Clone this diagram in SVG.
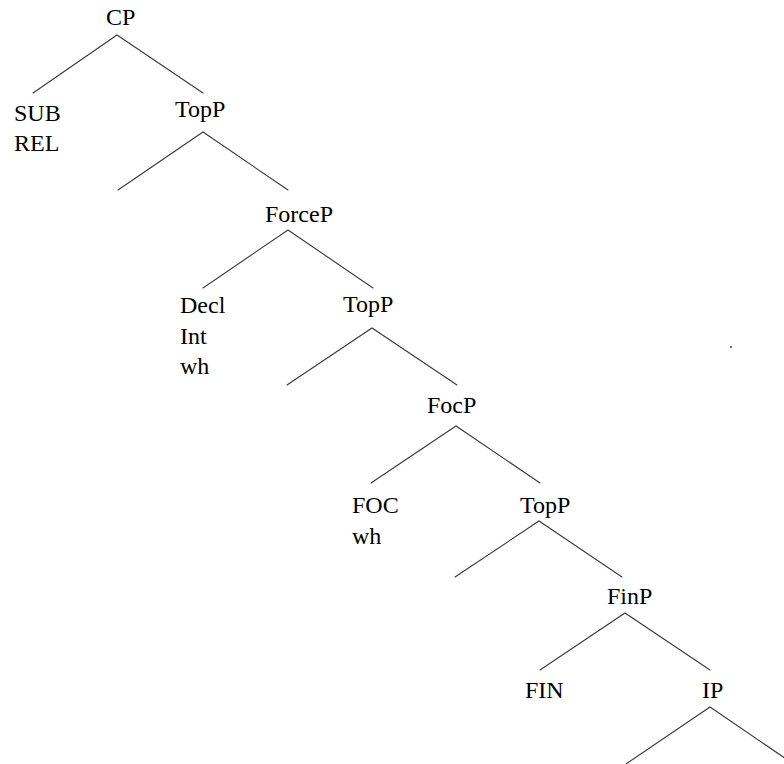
<svg xmlns="http://www.w3.org/2000/svg" width="784" height="764" viewBox="0 0 784 764">
  <style>
    .lbl { font-family: 'Liberation Serif', 'DejaVu Serif', serif; font-size: 24px; fill: #000; }
    .edge { stroke: #3a3a3a; stroke-width: 1.1; fill: none; stroke-linecap: round; }
  </style>
  <rect width="784" height="764" fill="#fff"/>

  <!-- branches of the cartographic CP tree -->
  <g id="connectors">
    <polyline class="edge" points="33,93 117,35 203,93"/>
    <polyline class="edge" points="118,190 203,132 288,190"/>
    <polyline class="edge" points="203,288 288,230 373,288"/>
    <polyline class="edge" points="287,385 372,328 457,385"/>
    <polyline class="edge" points="371,483 456,426 540,483"/>
    <polyline class="edge" points="455,577 539,521 622,577"/>
    <polyline class="edge" points="540,670 625,613 710,670"/>
    <polyline class="edge" points="626,764 710,707 795,765"/>
  </g>

  <g font-family="Liberation Serif, serif">
    <g id="cp"><text class="lbl" x="106" y="25">CP</text></g>
    <g id="sub-rel">
      <text class="lbl" x="14" y="121">SUB</text>
      <text class="lbl" x="14" y="151">REL</text>
    </g>
    <g id="topp-1"><text class="lbl" x="175" y="117">TopP</text></g>
    <g id="forcep"><text class="lbl" x="265" y="222">ForceP</text></g>
    <g id="force-head">
      <text class="lbl" x="180" y="313">Decl</text>
      <text class="lbl" x="180" y="344">Int</text>
      <text class="lbl" x="180" y="374">wh</text>
    </g>
    <g id="topp-2"><text class="lbl" x="343" y="312">TopP</text></g>
    <g id="focp"><text class="lbl" x="427" y="413">FocP</text></g>
    <g id="foc-head">
      <text class="lbl" x="352" y="513">FOC</text>
      <text class="lbl" x="352" y="544">wh</text>
    </g>
    <g id="topp-3"><text class="lbl" x="520" y="513">TopP</text></g>
    <g id="finp"><text class="lbl" x="607" y="604">FinP</text></g>
    <g id="fin-head"><text class="lbl" x="525" y="698">FIN</text></g>
    <g id="ip"><text class="lbl" x="702" y="698">IP</text></g>
  </g>

  <!-- stray speck -->
  <rect x="730" y="346" width="2" height="2" fill="#777"/>
</svg>
